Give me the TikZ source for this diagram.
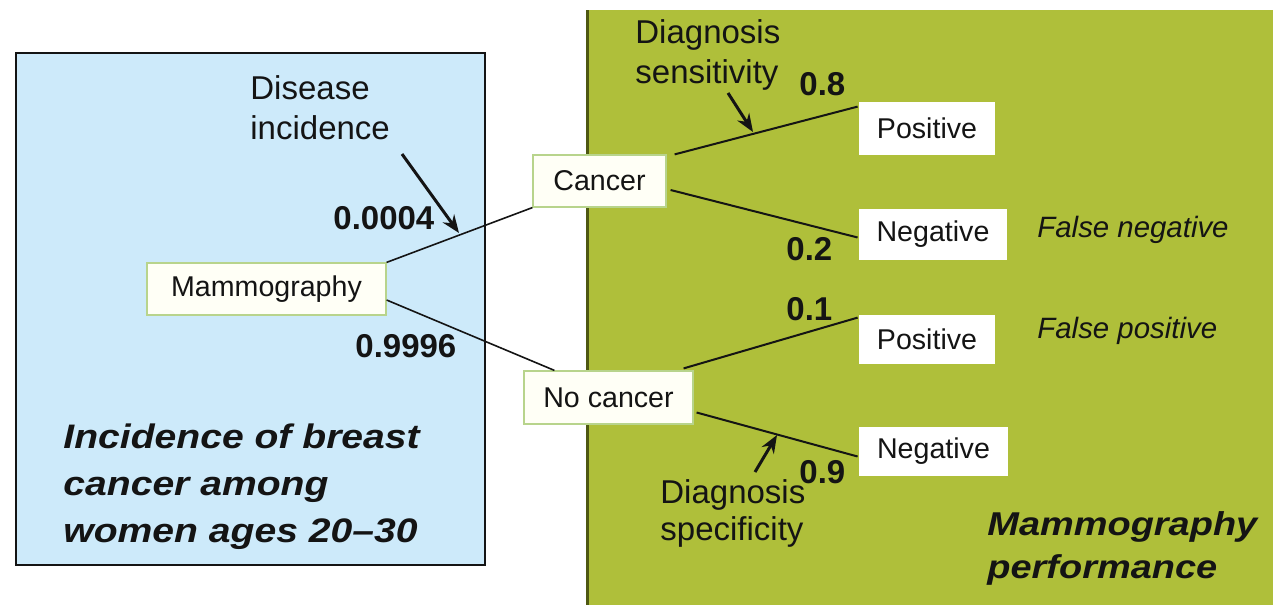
\documentclass[tikz,border=0pt]{standalone}
\usepackage{fontspec}
\setmainfont{Liberation Sans}
\newfontfamily\widefont{Liberation Sans}[FakeStretch=1.15]
\usetikzlibrary{arrows.meta,calc}
\definecolor{bluebg}{HTML}{CDEAFA}
\definecolor{greenbg}{HTML}{AFBF3A}
\definecolor{greenedge}{HTML}{4E5812}
\definecolor{boxedge}{HTML}{B8D48C}
\definecolor{cream}{HTML}{FFFFF6}
\definecolor{ink}{HTML}{141414}
\tikzset{
  treebox/.style={draw=boxedge, line width=0.6pt, fill=cream, inner sep=0pt, text=ink,
    font=\fontsize{14.3}{17}\selectfont},
  outbox/.style={fill=white, inner sep=0pt, text=ink, font=\fontsize{14.3}{17}\selectfont},
  note/.style={anchor=base west, inner sep=0pt, text=ink, font=\fontsize{16.5}{20}\selectfont},
  prob/.style={anchor=base west, inner sep=0pt, text=ink, font=\fontsize{16.5}{20}\selectfont\bfseries},
  fault/.style={anchor=base west, inner sep=0pt, text=ink, font=\fontsize{14.7}{18}\selectfont\itshape},
  title/.style={anchor=base west, inner sep=0pt, text=ink, font=\widefont\fontsize{17}{20}\selectfont\bfseries\itshape},
  branch/.style={draw=ink, line width=1pt},
  pointer/.style={draw=ink, line width=1.5pt, -{Stealth[length=9pt,width=7pt]}}
}
\begin{document}
\begin{tikzpicture}[x=0.5pt,y=-0.5pt]
\useasboundingbox (0,0) rectangle (1273,605);
% panels
\fill[greenbg] (587,10) rectangle (1273,605);
\draw[greenedge, line width=1.5pt] (587.5,10) -- (587.5,605);
\draw[fill=bluebg, draw=ink, line width=1pt] (16,53) rectangle (485,565);

% tree nodes
\node[treebox, minimum width=119.5pt, minimum height=26pt] (mam) at (266.5,289) {Mammography};
\node[treebox, minimum width=66.5pt, minimum height=26pt] (can) at (599.5,181) {Cancer};
\node[treebox, minimum width=84.5pt, minimum height=26.5pt] (noc) at (608.5,397.5) {No cancer};
\node[outbox, minimum width=68pt, minimum height=26.5pt] (pos1) at (927,128.5) {Positive};
\node[outbox, minimum width=74pt, minimum height=25.5pt] (neg1) at (933,234.5) {Negative};
\node[outbox, minimum width=68pt, minimum height=24.5pt] (pos2) at (927,339.5) {Positive};
\node[outbox, minimum width=74.5pt, minimum height=24.5pt] (neg2) at (933.5,451.5) {Negative};

% branches
\draw[branch, line width=0.8pt] (mam.north east) -- (can.south west);
\draw[branch, line width=0.8pt] ($(mam.east)+(0,11)$) -- ($(noc.north west)+(31,0)$);
\draw[branch] ($(can.north east)+(8,0)$) -- ($(pos1.north west)+(-1,5)$);
\draw[branch] ($(can.east)+(4,9)$) -- ($(neg1.west)+(-1,3)$);
\draw[branch] ($(noc.north east)+(-10,-2)$) -- ($(pos2.north west)+(-1,3)$);
\draw[branch] ($(noc.east)+(3,15)$) -- ($(neg2.west)+(-1,5)$);

% annotations
\node[note] (dis1) at (250,99) {Disease};
\node[note] (dis2) at (250,139) {incidence};
\node[prob] (p0004) at (333,229) {0.0004};
\node[prob] (p9996) at (355,357) {0.9996};
\node[title] (inc1) at (63,448) {Incidence of breast};
\node[title] (inc2) at (63,495) {cancer among};
\node[title] (inc3) at (63,542) {women ages 20–30};

\node[note] (sen1) at (635,43) {Diagnosis};
\node[note] (sen2) at (635,83) {sensitivity};
\node[prob] (p08) at (799,95) {0.8};
\node[prob] (p02) at (786,260) {0.2};
\node[fault] (fneg) at (1037,237) {False negative};
\node[prob] (p01) at (786,320) {0.1};
\node[fault] (fpos) at (1037,338) {False positive};
\node[prob] (p09) at (799,483) {0.9};
\node[note] (spe1) at (660,503) {Diagnosis};
\node[note] (spe2) at (660,540) {specificity};
\node[title, font=\widefont\fontsize{16.5}{20}\selectfont\bfseries\itshape] (mp1) at (987,535) {Mammography};
\node[title, font=\widefont\fontsize{16.5}{20}\selectfont\bfseries\itshape] (mp2) at (987,578) {performance};

% pointers
\coordinate (da1) at (402,154);
\coordinate (da2) at (459,233);
\coordinate (sa1) at (728,93);
\coordinate (sa2) at (753,132);
\coordinate (pa1) at (755,472);
\coordinate (pa2) at (777,435);
\draw[pointer] (da1) -- (da2);
\draw[pointer] (sa1) -- (sa2);
\draw[pointer] (pa1) -- (pa2);
\end{tikzpicture}
\end{document}
